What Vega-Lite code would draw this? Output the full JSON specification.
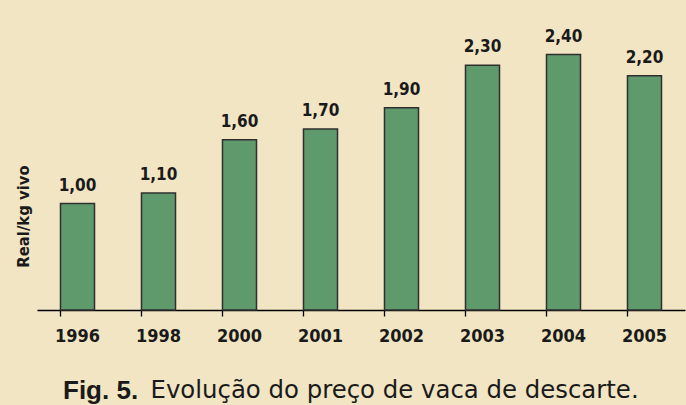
{
  "$schema": "https://vega.github.io/schema/vega-lite/v6.json",
  "width": 648,
  "height": 298,
  "autosize": "none",
  "padding": {"left": 37, "top": 12, "right": 1, "bottom": 95},
  "background": "#F1E5C3",
  "config": {
    "view": {"stroke": null},
    "locale": {"number": {"decimal": ",", "thousands": ".", "grouping": [3], "currency": ["R$", ""]}}
  },
  "title": {
    "text": "Fig. 5.",
    "orient": "bottom",
    "anchor": "start",
    "frame": "group",
    "font": "Liberation Sans",
    "fontSize": 26,
    "fontWeight": "bold",
    "color": "#1a1a1a",
    "dx": 26,
    "offset": -23
  },
  "data": {
    "values": [
      {"ano": "1996", "preco": 1.00},
      {"ano": "1998", "preco": 1.10},
      {"ano": "2000", "preco": 1.60},
      {"ano": "2001", "preco": 1.70},
      {"ano": "2002", "preco": 1.90},
      {"ano": "2003", "preco": 2.30},
      {"ano": "2004", "preco": 2.40},
      {"ano": "2005", "preco": 2.20}
    ]
  },
  "encoding": {
    "x": {
      "field": "ano",
      "type": "ordinal",
      "sort": null,
      "scale": {"paddingInner": 0.58, "paddingOuter": 0.29},
      "axis": {
        "title": "Evolução do preço de vaca de descarte.",
        "titleFont": "DejaVu Sans",
        "titleFontSize": 24.4,
        "titleFontWeight": "normal",
        "titleColor": "#1a1a1a",
        "titleX": 113,
        "titleY": 87,
        "titleAlign": "left",
        "titleBaseline": "alphabetic",
        "labelAngle": 0,
        "labelFont": "DejaVu Sans Condensed",
        "labelFontSize": 18,
        "labelFontWeight": "bold",
        "labelColor": "#1a1a1a",
        "labelPadding": 11,
        "bandPosition": 0,
        "tickSize": 6,
        "tickColor": "#000000",
        "tickWidth": 1.3,
        "domainColor": "#000000",
        "domainWidth": 1.5
      }
    },
    "y": {
      "field": "preco",
      "type": "quantitative",
      "scale": {"domain": [0, 2.8]},
      "axis": {
        "title": "Real/kg vivo",
        "titleFont": "DejaVu Sans Condensed",
        "titleFontSize": 16.5,
        "titleFontWeight": "bold",
        "titleColor": "#1a1a1a",
        "titleAngle": -90,
        "titleX": -9,
        "titleY": 204,
        "titleAlign": "center",
        "titleBaseline": "alphabetic",
        "labels": false,
        "ticks": false,
        "domain": false,
        "grid": false
      }
    }
  },
  "layer": [
    {
      "mark": {"type": "bar", "color": "#5E9A6C", "stroke": "#2F2F2F", "strokeWidth": 1.5}
    },
    {
      "mark": {
        "type": "text",
        "baseline": "alphabetic",
        "dy": -13,
        "font": "DejaVu Sans Condensed",
        "fontSize": 17,
        "fontWeight": "bold",
        "color": "#1a1a1a"
      },
      "encoding": {"text": {"field": "preco", "type": "quantitative", "format": ".2f"}}
    }
  ]
}
